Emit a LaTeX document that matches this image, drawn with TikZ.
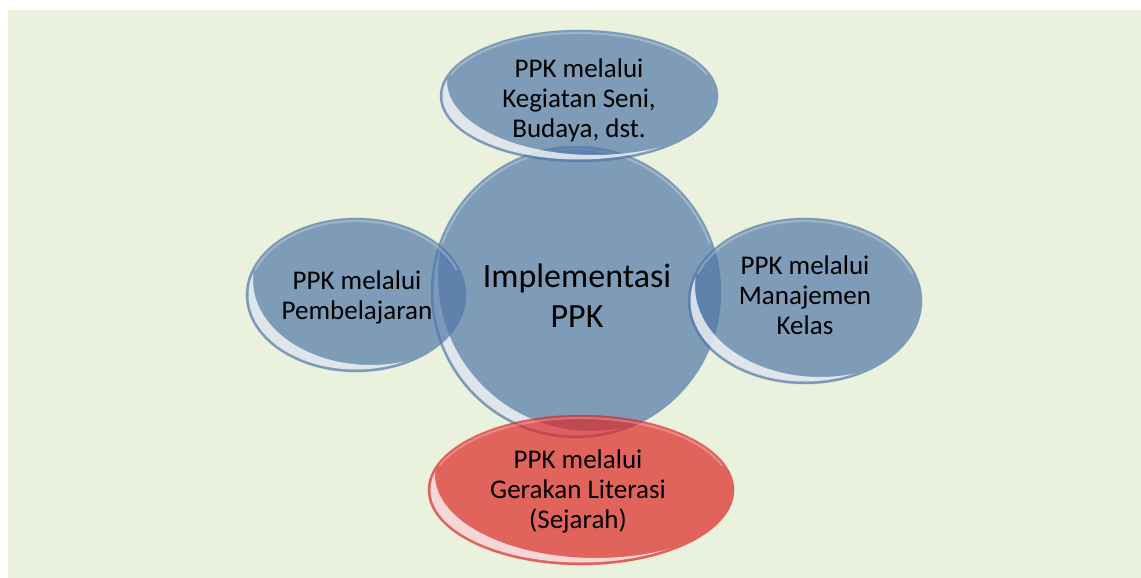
\documentclass[tikz,border=0pt]{standalone}
\usepackage{fontspec}
\setmainfont{Carlito}
\usetikzlibrary{shapes.geometric}
\definecolor{bg}{RGB}{234,241,221}
\definecolor{blu}{RGB}{81,120,167}
\definecolor{rd}{RGB}{220,40,38}
\newcommand\glossy[3]{%
  \begin{scope}
    \clip (#1.center) ellipse [x radius={#2-2.5}, y radius={#3-2.5}];
    \fill[white, opacity=0.75, even odd rule]
      (#1.center) ellipse [x radius={#2}, y radius={#3}]
      ([shift={(15,-15)}]#1.center) ellipse [x radius={#2+8}, y radius={#3+8}];
  \end{scope}
  \draw[white, opacity=0.25, line width=2pt, line cap=round]
    ([shift={(200:{#2-3} and {#3-3})}]#1.center) arc[start angle=200, end angle=340, x radius={#2-3}, y radius={#3-3}];
}
\begin{document}
\begin{tikzpicture}[x=1pt,y=-1pt,
  bubble/.style={ellipse, draw=blu, draw opacity=0.3, line width=0.8pt, fill=blu, fill opacity=0.7, inner sep=0pt},
  lbl/.style={align=center, font=\fontsize{27}{30}\selectfont, text=black}]
\useasboundingbox (0,0) rectangle (1141,578);
\fill[white] (0,0) rectangle (1141,578);
\fill[bg] (8,10) rectangle (1141,578);
% shapes
\node[bubble, minimum width=290pt, minimum height=292pt] (core) at (576,292) {};
\glossy{core}{145}{146}
\node[bubble, minimum width=278pt, minimum height=132pt] (top) at (579,96) {};
\glossy{top}{139}{66}
\node[bubble, minimum width=220pt, minimum height=154pt] (left) at (356,295) {};
\glossy{left}{110}{77}
\node[bubble, minimum width=234pt, minimum height=166pt] (right) at (805,301) {};
\glossy{right}{117}{83}
\node[bubble, draw=rd, fill=rd, minimum width=306pt, minimum height=150pt] (bottom) at (581,490) {};
\glossy{bottom}{153}{75}
% labels
\node[lbl] (toptxt) at (579,100) {PPK melalui\\Kegiatan Seni,\\Budaya, dst.};
\node[lbl, font=\fontsize{34}{40}\selectfont] (coretxt) at (577,296) {Implementasi\\PPK};
\node[lbl] (lefttxt) at (357,297) {PPK melalui\\Pembelajaran};
\node[lbl] (righttxt) at (805,295) {PPK melalui\\Manajemen\\Kelas};
\node[lbl] (bottomtxt) at (578,491) {PPK melalui\\Gerakan Literasi\\(Sejarah)};
\end{tikzpicture}
\end{document}
